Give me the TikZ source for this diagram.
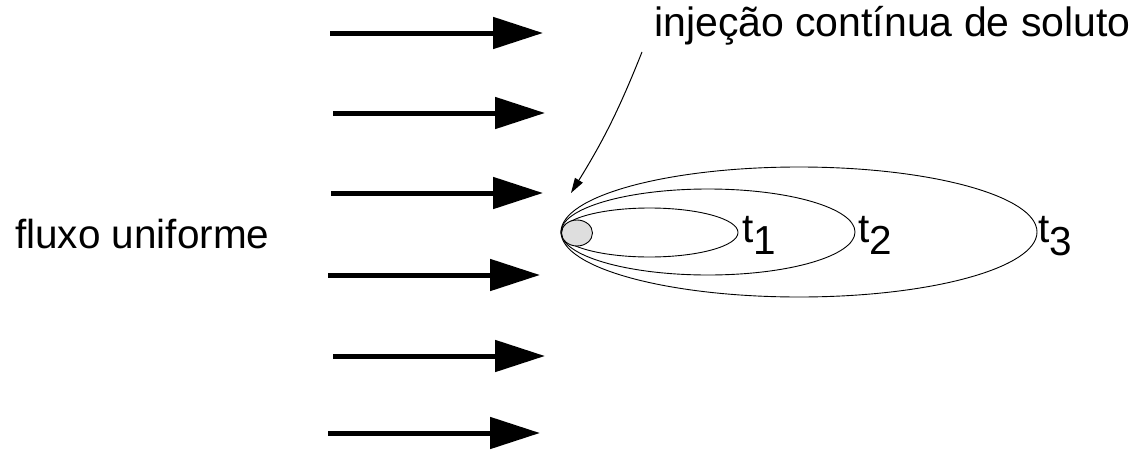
\documentclass[tikz,border=0pt]{standalone}
\usepackage{fontspec}
\setmainfont{Liberation Sans}
\usetikzlibrary{arrows.meta,shapes.geometric}
\begin{document}
\begin{tikzpicture}[x=1pt,y=-1pt,
  flow/.style={line width=5pt,-{Triangle[length=50pt,width=31pt]}},
  lbl/.style={inner sep=0pt,anchor=base west,font=\fontsize{40.5}{48}\selectfont},
  plume/.style={draw,ellipse,line width=0.9pt,inner sep=0pt},
  leader/.style={line width=1pt,-{Triangle[length=15pt,width=9pt]}}]
\useasboundingbox (0,0) rectangle (1138,450);
% flow arrows
\coordinate (a1s) at (330,33);  \coordinate (a1e) at (543,33);
\coordinate (a2s) at (333,113); \coordinate (a2e) at (545,113);
\coordinate (a3s) at (331,193); \coordinate (a3e) at (543,193);
\coordinate (a4s) at (328,275); \coordinate (a4e) at (540,275);
\coordinate (a5s) at (333,356); \coordinate (a5e) at (545,356);
\coordinate (a6s) at (328,433); \coordinate (a6e) at (540,433);
\foreach \i in {1,...,6} \draw[flow] (a\i s) -- (a\i e);
% plumes
\node[plume,minimum width=476pt,minimum height=130pt] (e3) at (799,232) {};
\node[plume,minimum width=294pt,minimum height=86pt] (e2) at (708,232) {};
\node[plume,minimum width=177pt,minimum height=49pt] (e1) at (649.5,232.5) {};
\node[plume,fill=black!13,minimum width=31pt,minimum height=26pt] (src) at (577,233) {};
% labels
\node[lbl] (flux) at (15,248) {fluxo uniforme};
\node[lbl,font=\fontsize{41}{48}\selectfont] (inj) at (654,36) {injeção contínua de soluto};
\node[lbl] (t1) at (742,242) {t\lower12pt\hbox{1}};
\node[lbl] (t2) at (858,242) {t\lower12pt\hbox{2}};
\node[lbl] (t3) at (1038,242) {t\lower13pt\hbox{3}};
% leader
\coordinate (ls) at (642,52);
\coordinate (le) at (571,193);
\draw[leader] (ls) to[bend left=5] (le);
\end{tikzpicture}
\end{document}
